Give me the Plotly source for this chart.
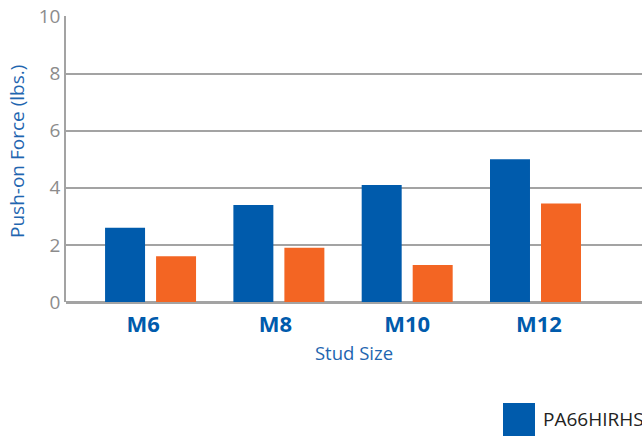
import plotly.graph_objects as go

categories = ["M6", "M8", "M10", "M12"]
series_a_name = "PA66HIRHS"
series_a = [2.6, 3.4, 4.1, 5.0]
series_b_name = "Series 2"
series_b = [1.6, 1.9, 1.3, 3.45]
y_ticks = [0, 2, 4, 6, 8, 10]
x_title = "Stud Size"
y_title = "Push-on Force (lbs.)"

BLUE = "#005BAC"
ORANGE = "#F36523"
GRID = "#A3A3A3"
TITLE_BLUE = "#1F66B0"

x_idx = list(range(len(categories)))
# small horizontal nudges of the category labels, as in the reference
label_nudge = [-0.058, -0.027, 0.0, 0.027]
tick_pos = [i + d for i, d in zip(x_idx, label_nudge)]

fig = go.Figure()
fig.add_trace(go.Bar(x=x_idx, y=series_a, name=series_a_name, marker_color=BLUE,
                     marker_line_width=0, showlegend=False))
fig.add_trace(go.Bar(x=x_idx, y=series_b, name=series_b_name, marker_color=ORANGE,
                     marker_line_width=0, showlegend=False))

fig.update_layout(
    width=642, height=436,
    margin=dict(l=66, r=0, t=16, b=134, autoexpand=False),
    plot_bgcolor="white", paper_bgcolor="white",
    barmode="group", bargap=0.205, bargroupgap=0.216,
    font=dict(family="Open Sans", color="#8C8C8C"),
    xaxis=dict(
        tickmode="array", tickvals=tick_pos, ticktext=categories,
        range=[-0.659, 3.83], showgrid=False, zeroline=False,
        showline=False, ticks="", automargin=False, ticklabelstandoff=7,
        tickfont=dict(family="Open Sans", size=22, color=BLUE, weight="bold"),
        title=dict(text=x_title, font=dict(family="Open Sans", size=18.5, color=TITLE_BLUE),
                   standoff=10),
    ),
    yaxis=dict(
        range=[0, 10.02], tickvals=y_ticks, showgrid=True, gridcolor=GRID, gridwidth=1.5,
        zeroline=True, zerolinecolor=GRID, zerolinewidth=2.5,
        showline=True, linecolor=GRID, linewidth=1.5, ticks="", automargin=False,
        ticklabeloverflow="allow",
        tickfont=dict(family="Open Sans", size=19, color="#8C8C8C"),
        ticklabelstandoff=0,
    ),
)

# y-axis title placed further left than plotly's own title allows
fig.add_annotation(xref="paper", yref="paper", x=(17 - 66) / 576, y=(302 - 152) / 286,
                   text=y_title, textangle=-90, showarrow=False,
                   xanchor="center", yanchor="middle",
                   font=dict(family="Open Sans", size=19, color=TITLE_BLUE))

# legend-like marker (plot-area paper coords: x=(px-66)/576, y=(302-py)/286)
fig.add_shape(type="rect", xref="paper", yref="paper",
              x0=(503 - 66) / 576, x1=(535 - 66) / 576,
              y0=(302 - 403) / 286, y1=(302 - 440) / 286,
              fillcolor=BLUE, line_width=0)
fig.add_annotation(xref="paper", yref="paper", x=(541 - 66) / 576, y=(302 - 419) / 286,
                   text=series_a_name, showarrow=False, xanchor="left", yanchor="middle",
                   font=dict(family="Open Sans", size=19, color="#222222"))

fig.write_html("out.html", config={"displayModeBar": False},
               post_script="document.body.style.margin='0';document.body.style.overflow='hidden';")
